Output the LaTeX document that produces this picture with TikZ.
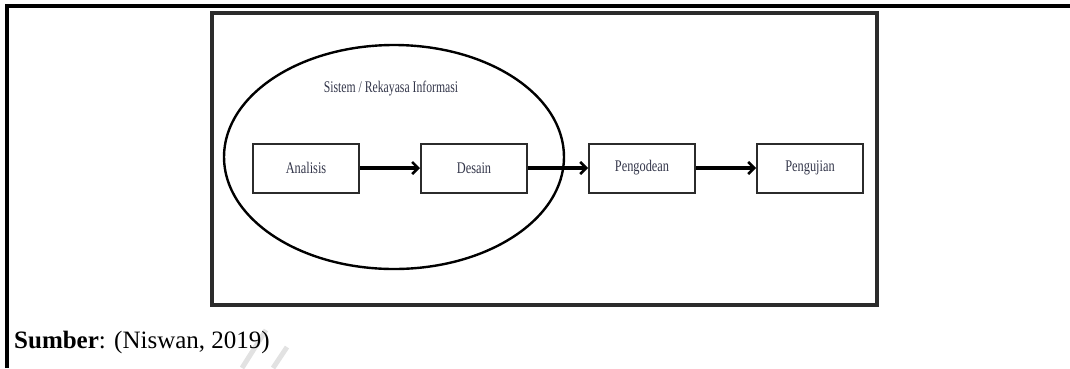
\documentclass[tikz,border=0pt]{standalone}
\usepackage{fontspec}
\setmainfont{Liberation Serif}
\usepackage{xcolor}
\usepackage{tikz}
\usetikzlibrary{arrows.meta,positioning,shapes.geometric}
\definecolor{inkgray}{HTML}{2B2B2B}
\definecolor{boxtext}{HTML}{33364A}
\definecolor{markgray}{HTML}{E2E2E2}

\begin{document}
\begin{tikzpicture}[
    x=1pt, y=-1pt,
    font=\fontsize{13}{15}\selectfont,
    node distance=60pt,
    phase/.style={draw=inkgray, fill=white, minimum height=49pt,
                  minimum width=106pt, align=center, line width=2pt,
                  text=boxtext, inner sep=0pt},
    arrow/.style={-{Straight Barb[length=6pt,width=12pt,line width=2.6pt]},
                  line width=3.4pt, draw=black}
]
  \useasboundingbox (0,0) rectangle (1070,368);

  % table cell and figure frame
  \draw[line width=3.2pt] (7,368) |- (1070,6);
  \draw[line width=4pt, draw=inkgray] (212,13) rectangle (877,305);

  % system / information engineering area
  \node[ellipse, draw=black, line width=2.4pt, minimum width=340pt,
        minimum height=224pt, inner sep=0pt] (sys) at (394,157) {};
  \node[text=boxtext] (title) at (391,89)
       {\scalebox{0.9}[1.25]{Sistem / Rekayasa Informasi}};

  \node[phase] (analisis) at (306,168) {\scalebox{0.95}[1.25]{Analisis}};
  \node[phase, right=of analisis] (desain) {\scalebox{0.95}[1.25]{Desain}};
  \node[phase, right=of desain] (pengodean) {\scalebox{0.95}[1.25]{Pengodean}};
  \node[phase, right=of pengodean] (pengujian) {\scalebox{0.95}[1.25]{Pengujian}};

  \draw[arrow] (analisis) -- (desain);
  \draw[arrow] (desain) -- (pengodean);
  \draw[arrow] (pengodean) -- (pengujian);

  % source line
  \draw[markgray, line width=5pt] (266,330) -- (242,368);
  \draw[markgray, line width=5pt] (287,347) -- (273,368);
  \node[anchor=west, inner sep=0pt, font=\fontsize{25}{28}\selectfont] (source)
       at (14,342) {\textbf{Sumber}: (Niswan, 2019)};
\end{tikzpicture}
\end{document}
